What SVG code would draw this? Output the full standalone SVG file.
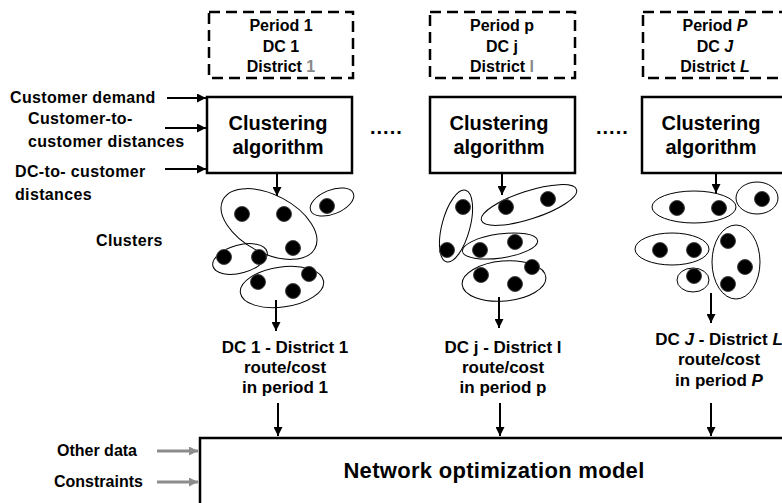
<svg xmlns="http://www.w3.org/2000/svg" width="782" height="503" viewBox="0 0 782 503">
<defs>
<marker id="ah" viewBox="0 0 10 10" refX="10" refY="5" markerWidth="9" markerHeight="9" markerUnits="userSpaceOnUse" orient="auto"><path d="M0,0 L10,5 L0,10 z" fill="#000"/></marker>
<marker id="ahg" viewBox="0 0 10 10" refX="10" refY="5" markerWidth="9" markerHeight="9" markerUnits="userSpaceOnUse" orient="auto"><path d="M0,0 L10,5 L0,10 z" fill="#8c8c8c"/></marker>
<style>
text{font-family:"Liberation Sans",Arial,sans-serif;font-weight:bold;fill:#000}
.t16{font-size:16px}
.sp{letter-spacing:0.35px}
.t17{font-size:17px}
.t20{font-size:20px}
.mid{text-anchor:middle}
.dash{fill:#fff;stroke:#000;stroke-width:2.5;stroke-dasharray:11 6}
.box{fill:#fff;stroke:#000;stroke-width:2.5}
.cl{fill:none;stroke:#000;stroke-width:1}
.dot{fill:#000;stroke:#444;stroke-width:1}
.gr{fill:#888}
.ln{stroke:#000;stroke-width:2;fill:none}
.lg{stroke:#8c8c8c;stroke-width:3;fill:none}
</style>
</defs>
<rect width="782" height="503" fill="#fff"/>

<g id="period1">
<rect class="dash" x="209" y="12" width="144" height="66"/>
<text class="t16 mid" x="281" y="31">Period 1</text>
<text class="t16 mid" x="281" y="52">DC 1</text>
<text class="t16 mid" x="281" y="72">District <tspan class="gr">1</tspan></text>
</g>
<g id="periodp">
<rect class="dash" x="430" y="12" width="145" height="66"/>
<text class="t16 mid" x="502" y="31">Period p</text>
<text class="t16 mid" x="502" y="52">DC j</text>
<text class="t16 mid" x="502" y="72">District <tspan class="gr">l</tspan></text>
</g>
<g id="periodP">
<rect class="dash" x="643" y="12" width="145" height="66"/>
<text class="t16 mid" x="715" y="31">Period <tspan font-style="italic">P</tspan></text>
<text class="t16 mid" x="715" y="52">DC <tspan font-style="italic">J</tspan></text>
<text class="t16 mid" x="715" y="72">District <tspan font-style="italic">L</tspan></text>
</g>

<g id="inputs">
<text class="t16 sp" x="10" y="103">Customer demand</text>
<text class="t16 sp" x="28" y="124">Customer-to-</text>
<text class="t16 sp" x="28" y="147">customer distances</text>
<text class="t16 sp" x="15" y="177">DC-to- customer</text>
<text class="t16 sp" x="15" y="200">distances</text>
<text class="t16 sp" x="96" y="246">Clusters</text>
</g>

<g id="cluster1">
<rect class="box" x="207" y="97" width="145" height="76"/>
<text class="t20 mid" x="278" y="130">Clustering</text>
<text class="t20 mid" x="278" y="154">algorithm</text>
</g>
<g id="cluster2">
<rect class="box" x="430" y="97" width="145" height="76"/>
<text class="t20 mid" x="499" y="130">Clustering</text>
<text class="t20 mid" x="499" y="154">algorithm</text>
</g>
<g id="cluster3">
<rect class="box" x="642" y="97" width="145" height="76"/>
<text class="t20 mid" x="711" y="130">Clustering</text>
<text class="t20 mid" x="711" y="154">algorithm</text>
</g>

<g id="ellipsis">
<text class="t20" x="370" y="134" letter-spacing="1">.....</text>
<text class="t20" x="596" y="134" letter-spacing="1">.....</text>
</g>

<g id="clusters1">
<ellipse class="cl" cx="269" cy="224" rx="52" ry="29" transform="rotate(28 269 224)"/>
<ellipse class="cl" cx="332" cy="202" rx="23" ry="12" transform="rotate(-22 332 202)"/>
<ellipse class="cl" cx="240" cy="259" rx="28" ry="14" transform="rotate(-15 240 259)"/>
<ellipse class="cl" cx="282" cy="287" rx="42" ry="20" transform="rotate(-8 282 287)"/>
<circle class="dot" cx="242" cy="214" r="7.5"/>
<circle class="dot" cx="284" cy="214" r="7.5"/>
<circle class="dot" cx="293" cy="248" r="7.5"/>
<circle class="dot" cx="327" cy="206" r="7.5"/>
<circle class="dot" cx="224" cy="257" r="7.5"/>
<circle class="dot" cx="259" cy="257" r="7.5"/>
<circle class="dot" cx="258" cy="282" r="7.5"/>
<circle class="dot" cx="309" cy="274" r="7.5"/>
<circle class="dot" cx="293" cy="291" r="7.5"/>
</g>
<g id="clusters2">
<ellipse class="cl" cx="456" cy="226" rx="37" ry="14" transform="rotate(-75 456 226)"/>
<ellipse class="cl" cx="529" cy="205" rx="50" ry="14" transform="rotate(-18 529 205)"/>
<ellipse class="cl" cx="500" cy="246" rx="38" ry="12" transform="rotate(-8 500 246)"/>
<ellipse class="cl" cx="504" cy="281" rx="42" ry="20" transform="rotate(-5 504 281)"/>
<circle class="dot" cx="463" cy="207" r="7.5"/>
<circle class="dot" cx="447" cy="250" r="7.5"/>
<circle class="dot" cx="506" cy="207" r="7.5"/>
<circle class="dot" cx="548" cy="199" r="7.5"/>
<circle class="dot" cx="480" cy="250" r="7.5"/>
<circle class="dot" cx="515" cy="242" r="7.5"/>
<circle class="dot" cx="481" cy="275" r="7.5"/>
<circle class="dot" cx="515" cy="284" r="7.5"/>
<circle class="dot" cx="532" cy="267" r="7.5"/>
</g>
<g id="clusters3">
<ellipse class="cl" cx="694" cy="207" rx="42" ry="16"/>
<ellipse class="cl" cx="757" cy="198" rx="21" ry="16"/>
<ellipse class="cl" cx="672" cy="249" rx="37" ry="16"/>
<ellipse class="cl" cx="736" cy="262" rx="24" ry="37"/>
<ellipse class="cl" cx="693" cy="280" rx="16" ry="12"/>
<circle class="dot" cx="677" cy="208" r="7.5"/>
<circle class="dot" cx="719" cy="208" r="7.5"/>
<circle class="dot" cx="762" cy="199" r="7.5"/>
<circle class="dot" cx="660" cy="250" r="7.5"/>
<circle class="dot" cx="694" cy="250" r="7.5"/>
<circle class="dot" cx="728" cy="241" r="7.5"/>
<circle class="dot" cx="745" cy="267" r="7.5"/>
<circle class="dot" cx="728" cy="284" r="7.5"/>
<circle class="dot" cx="694" cy="276" r="7.5"/>
</g>

<g id="result1">
<text class="t17 mid" x="285" y="353">DC 1 - District 1</text>
<text class="t17 mid" x="285" y="373">route/cost</text>
<text class="t17 mid" x="285" y="393">in period 1</text>
</g>
<g id="result2">
<text class="t17 mid" x="503" y="353">DC j - District l</text>
<text class="t17 mid" x="503" y="373">route/cost</text>
<text class="t17 mid" x="503" y="393">in period p</text>
</g>
<g id="result3">
<text class="t17 mid" x="719" y="345">DC <tspan font-style="italic">J</tspan> - District <tspan font-style="italic">L</tspan></text>
<text class="t17 mid" x="719" y="365">route/cost</text>
<text class="t17 mid" x="719" y="386">in period <tspan font-style="italic">P</tspan></text>
</g>

<g id="network">
<rect class="box" x="200" y="438" width="600" height="100"/>
<text class="mid" x="494" y="478" font-size="22" letter-spacing="0.3">Network optimization model</text>
<text class="t16" x="57" y="456">Other data</text>
<text class="t16" x="54" y="487">Constraints</text>
</g>

<g id="connectors">
<line class="ln" x1="167" y1="98" x2="206" y2="98" marker-end="url(#ah)"/>
<line class="ln" x1="165" y1="128" x2="206" y2="128" marker-end="url(#ah)"/>
<line class="ln" x1="165" y1="169" x2="206" y2="169" marker-end="url(#ah)"/>
<line class="ln" x1="277" y1="173" x2="277" y2="196" marker-end="url(#ah)"/>
<line class="ln" x1="502" y1="173" x2="502" y2="195" marker-end="url(#ah)"/>
<line class="ln" x1="716" y1="173" x2="716" y2="193" marker-end="url(#ah)"/>
<line class="ln" x1="276" y1="300" x2="276" y2="331" marker-end="url(#ah)"/>
<line class="ln" x1="499" y1="297" x2="499" y2="328" marker-end="url(#ah)"/>
<line class="ln" x1="711" y1="293" x2="711" y2="323" marker-end="url(#ah)"/>
<line class="ln" x1="278" y1="403" x2="278" y2="436" marker-end="url(#ah)"/>
<line class="ln" x1="500" y1="403" x2="500" y2="436" marker-end="url(#ah)"/>
<line class="ln" x1="711" y1="403" x2="711" y2="436" marker-end="url(#ah)"/>
<line class="lg" x1="157" y1="451" x2="198" y2="451" marker-end="url(#ahg)"/>
<line class="lg" x1="157" y1="482" x2="198" y2="482" marker-end="url(#ahg)"/>
</g>
</svg>
